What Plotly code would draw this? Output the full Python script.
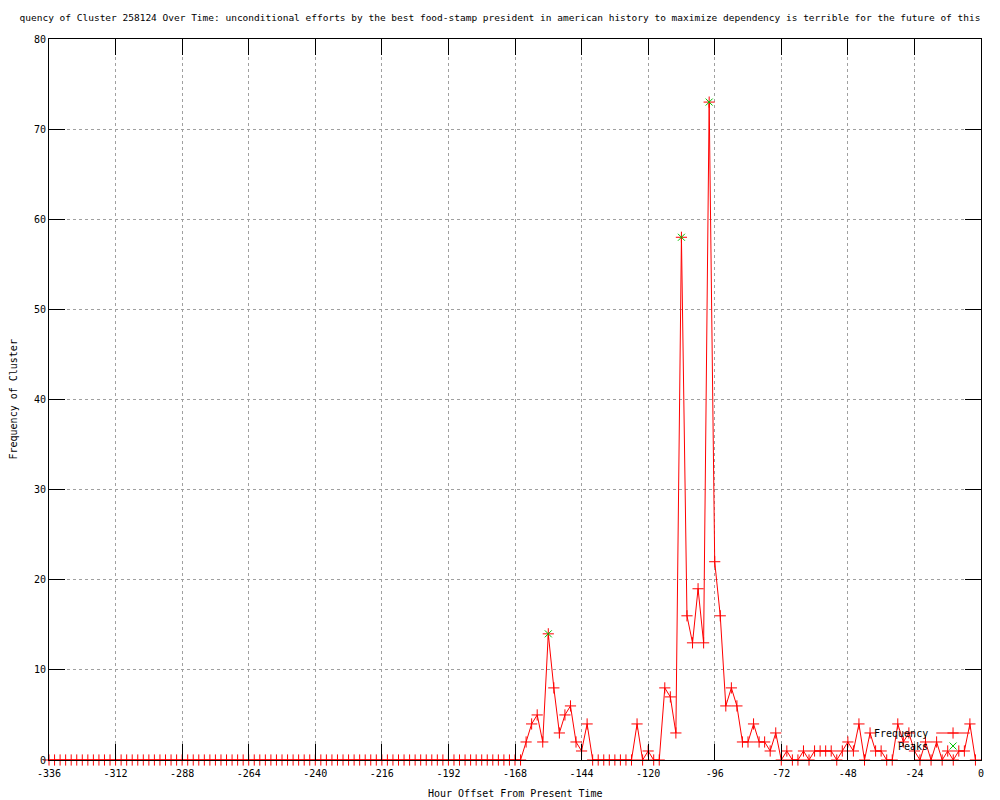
import plotly.graph_objects as go

# hour offsets, every 2 hours from -336 to -2
hours = list(range(-336, 0, 2))

# frequency per 2-hour bin
freq = [0] * 86 + [
    2, 4, 5, 2, 14, 8, 3, 5, 6, 2, 1, 4,          # -164 .. -142
    0, 0, 0, 0, 0, 0, 0, 0,                       # -140 .. -126
    4, 0, 1, 0, 0, 8, 7, 3,                       # -124 .. -110
    58, 16, 13, 19, 13, 73, 22, 16, 6, 8, 6,      # -108 .. -88
    2, 2, 4, 2, 2, 1, 3, 0, 1, 0, 0, 1, 0,        # -86 .. -62
    1, 1, 1, 1, 0, 1, 2, 1, 4, 0, 3, 1, 1,        # -60 .. -36
    0, 0, 4, 2, 3, 1, 0, 2, 0, 2, 0, 1, 0,        # -34 .. -10
    1, 1, 4, 0,                                   # -8 .. -2
]

peak_hours = [-156, -108, -98]
peak_vals = [14, 58, 73]

x_ticks = list(range(-336, 1, 24))
x_labels = [str(v) for v in x_ticks]
y_ticks = list(range(0, 81, 10))

title = ("quency of Cluster 258124 Over Time: unconditional efforts by the best "
         "food-stamp president in american history to maximize dependency is "
         "terrible for the future of this")

RED = "#ff0000"
GREEN = "#00c000"
FONT = "DejaVu Sans Mono"

# the page body has an 8px margin, so the figure is drawn 8px smaller
W, H = 992, 792
L, R, T, B = 41, 19, 31, 40
PW, PH = W - L - R, H - T - B

fig = go.Figure()

fig.add_trace(go.Scatter(
    x=hours, y=freq, mode="lines+markers", name="Frequency",
    line=dict(color=RED, width=1),
    marker=dict(symbol="cross-thin-open", size=8, color=RED,
                line=dict(color=RED, width=1)),
    cliponaxis=False, showlegend=False,
))
fig.add_trace(go.Scatter(
    x=peak_hours, y=peak_vals, mode="markers", name="Peaks",
    marker=dict(symbol="x-thin-open", size=7, color=GREEN,
                line=dict(color=GREEN, width=1)),
    cliponaxis=False, showlegend=False,
))

# gnuplot-style key: label on the left, sample on the right
key_y = [27 / PH, 14 / PH]
fig.add_trace(go.Scatter(
    x=[0.952, 0.988], y=[key_y[0], key_y[0]], mode="lines",
    line=dict(color=RED, width=1), xaxis="x2", yaxis="y2",
    showlegend=False, hoverinfo="skip",
))
fig.add_trace(go.Scatter(
    x=[0.970], y=[key_y[0]], mode="markers", xaxis="x2", yaxis="y2",
    marker=dict(symbol="cross-thin-open", size=8, color=RED,
                line=dict(color=RED, width=1)),
    showlegend=False, hoverinfo="skip", cliponaxis=False,
))
fig.add_trace(go.Scatter(
    x=[0.970], y=[key_y[1]], mode="markers", xaxis="x2", yaxis="y2",
    marker=dict(symbol="x-thin-open", size=7, color=GREEN,
                line=dict(color=GREEN, width=1)),
    showlegend=False, hoverinfo="skip", cliponaxis=False,
))
for txt, ky in zip(["Frequency", "Peaks"], key_y):
    fig.add_annotation(
        x=0.945, y=ky, xref="paper", yref="paper", text=txt,
        showarrow=False, xanchor="right", yanchor="middle",
        font=dict(family=FONT, size=10, color="black"),
    )

# axis titles
fig.add_annotation(
    x=0.5, y=-33 / PH, xref="paper", yref="paper",
    text="Hour Offset From Present Time", showarrow=False,
    xanchor="center", yanchor="middle",
    font=dict(family=FONT, size=10, color="black"),
)
fig.add_annotation(
    x=-36 / PW, y=0.5, xref="paper", yref="paper",
    text="Frequency of Cluster", showarrow=False, textangle=-90,
    xanchor="center", yanchor="middle",
    font=dict(family=FONT, size=10, color="black"),
)

axis_common = dict(
    showline=True, linecolor="black", linewidth=1, mirror="allticks",
    ticks="inside", ticklen=16, tickcolor="black", tickwidth=1,
    showgrid=True, gridcolor="#a0a0a0", griddash="dot", gridwidth=1,
    zeroline=False, automargin=False,
    tickfont=dict(family=FONT, size=10, color="black"),
)

fig.update_layout(
    width=W, height=H,
    margin=dict(l=L, r=R, t=T, b=B, autoexpand=False),
    paper_bgcolor="white", plot_bgcolor="white",
    font=dict(family=FONT, size=10, color="black"),
    title=dict(text=title, x=492 / W, xref="container", xanchor="center",
               y=1 - 10 / H, yanchor="middle",
               font=dict(family=FONT, size=9.5, color="black")),
    xaxis=dict(range=[-336, 0], tickvals=x_ticks, ticktext=x_labels,
               ticklabelstandoff=4, **axis_common),
    yaxis=dict(range=[0, 80], tickvals=y_ticks, **axis_common),
    xaxis2=dict(range=[0, 1], overlaying="x", visible=False),
    yaxis2=dict(range=[0, 1], overlaying="y", visible=False),
)

fig.write_html("out.html")
